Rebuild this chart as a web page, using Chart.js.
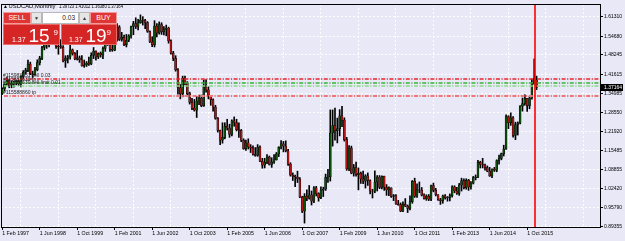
<!DOCTYPE html>
<html>
<head>
<meta charset="utf-8">
<script src="https://cdn.jsdelivr.net/npm/chart.js@4"></script>
<style>
  html, body { margin: 0; padding: 0; background: #e8e8f7; }
  #wrap { position: relative; width: 625px; height: 241px; overflow: hidden; }
  canvas { position: absolute; left: 0; top: 0; }
  .w { position: absolute; box-sizing: border-box; font-family: 'Liberation Sans', Arial, sans-serif; }
  .btn { top: 12px; height: 12px; background: #e03535; color: #fff; font-size: 7px; line-height: 10px; text-align: center; border: 1px solid #f29a9a; }
  .arr { top: 12px; height: 12px; background: #e6e6e6; color: #333; font-size: 5px; line-height: 10px; text-align: center; border: 1px solid #b8b8b8; }
  .inp { top: 12px; height: 12px; background: #fff; color: #222; font-size: 6.5px; line-height: 10px; text-align: right; padding-right: 3px; border: 1px solid #b8b8b8; }
  .big { top: 24px; height: 21px; background: #d62525; border: 1px solid #ea6a6a; color: #fff; }
  .big span { position: absolute; line-height: 1; white-space: nowrap; }
  .s { font-size: 7px; top: 10.5px; }
  .l { font-size: 19px; top: 1.2px; }
  .p { font-size: 8px; top: 3.5px; }
</style>
</head>
<body>
<div id="wrap">
  <canvas id="chart" width="625" height="241"></canvas>
  <div class="w btn" style="left:3px;width:28px;">SELL</div>
  <div class="w arr" style="left:31px;width:11px;">&#9660;</div>
  <div class="w inp" style="left:42px;width:37px;">0.03</div>
  <div class="w arr" style="left:79px;width:11px;">&#9650;</div>
  <div class="w btn" style="left:90px;width:27px;">BUY</div>
  <div class="w big" style="left:3px;width:57px;">
    <span class="s" style="left:8px;">1.37</span>
    <span class="l" style="left:24.5px;">15</span>
    <span class="p" style="left:49.5px;">9</span>
  </div>
  <div class="w big" style="left:61px;width:56px;">
    <span class="s" style="left:7px;">1.37</span>
    <span class="l" style="left:23.5px;">19</span>
    <span class="p" style="left:44.5px;">9</span>
  </div>
</div>
<script>
// USDCAD monthly bars, Feb 1997 .. Feb 2016
const opens = [
  1.350,1.366,1.383,1.395,1.378,1.387,1.384,1.392,1.383,1.408,1.423,
  1.430,1.451,1.418,1.415,1.432,1.456,1.471,1.508,1.545,1.520,1.545,1.538,
  1.531,1.512,1.511,1.509,1.462,1.471,1.476,1.500,1.488,1.469,1.473,1.466,
  1.445,1.448,1.455,1.452,1.481,1.496,1.476,1.488,1.483,1.505,1.522,1.543,
  1.502,1.499,1.535,1.578,1.536,1.543,1.518,1.533,1.548,1.580,1.590,1.580,
  1.593,1.602,1.601,1.594,1.563,1.527,1.518,1.582,1.558,1.587,1.562,1.570,
  1.575,1.531,1.489,1.471,1.431,1.370,1.350,1.402,1.386,1.350,1.320,1.300,
  1.293,1.325,1.335,1.309,1.372,1.363,1.340,1.329,1.304,1.265,1.224,1.190,
  1.200,1.238,1.232,1.210,1.257,1.251,1.226,1.224,1.190,1.161,1.181,1.167,
  1.163,1.142,1.138,1.167,1.118,1.105,1.115,1.132,1.107,1.116,1.123,1.143,
  1.166,1.178,1.170,1.154,1.108,1.070,1.066,1.064,1.057,0.995,0.947,0.998,
  0.991,1.003,0.981,1.027,1.007,0.993,1.019,1.022,1.063,1.065,1.215,1.240,
  1.223,1.230,1.274,1.259,1.192,1.092,1.163,1.077,1.096,1.072,1.077,1.057,
  1.050,1.068,1.052,1.016,1.015,1.047,1.064,1.028,1.066,1.029,1.020,1.027,
  0.997,1.000,0.972,0.969,0.947,0.970,0.964,0.956,0.979,1.049,0.998,1.020,
  1.019,1.002,0.990,0.998,0.988,1.035,1.018,1.003,0.986,0.983,0.999,0.993,
  0.994,1.000,1.030,1.016,1.008,1.036,1.052,1.027,1.053,1.030,1.043,1.062,
  1.063,1.114,1.107,1.105,1.096,1.084,1.068,1.091,1.087,1.120,1.128,1.144,
  1.160,1.271,1.250,1.267,1.207,1.244,1.249,1.307,1.316,1.334,1.309,1.335,
  1.384,1.39723
];
const highs = [
  1.370,1.385,1.405,1.400,1.392,1.392,1.395,1.396,1.412,1.429,1.437,
  1.465,1.458,1.427,1.440,1.466,1.478,1.512,1.578,1.547,1.572,1.556,1.560,
  1.545,1.520,1.535,1.515,1.480,1.481,1.524,1.503,1.491,1.498,1.479,1.480,
  1.465,1.460,1.475,1.490,1.508,1.497,1.490,1.493,1.510,1.525,1.562,1.545,
  1.525,1.540,1.590,1.583,1.560,1.551,1.553,1.552,1.582,1.598,1.610,1.605,
  1.620,1.614,1.605,1.597,1.565,1.545,1.600,1.590,1.596,1.593,1.580,1.585,
  1.578,1.534,1.495,1.480,1.436,1.381,1.410,1.410,1.391,1.355,1.334,1.330,
  1.340,1.345,1.345,1.397,1.398,1.373,1.341,1.332,1.310,1.268,1.225,1.250,
  1.250,1.262,1.245,1.260,1.270,1.262,1.250,1.227,1.195,1.191,1.195,1.175,
  1.171,1.165,1.175,1.171,1.128,1.128,1.141,1.136,1.130,1.141,1.148,1.168,
  1.189,1.186,1.188,1.159,1.113,1.078,1.071,1.084,1.062,0.998,1.007,1.020,
  1.035,1.016,1.031,1.032,1.010,1.030,1.029,1.074,1.090,1.294,1.294,1.300,
  1.266,1.295,1.306,1.267,1.200,1.172,1.170,1.107,1.115,1.095,1.081,1.084,
  1.072,1.078,1.054,1.022,1.085,1.069,1.069,1.068,1.067,1.038,1.030,1.027,
  1.004,1.004,0.984,0.975,0.979,0.990,0.968,0.999,1.052,1.060,1.041,1.047,
  1.028,1.006,1.003,1.004,1.036,1.043,1.025,1.004,0.991,1.002,1.004,0.997,
  1.006,1.034,1.034,1.029,1.042,1.060,1.058,1.058,1.056,1.048,1.066,1.071,
  1.121,1.118,1.128,1.108,1.102,1.097,1.092,1.097,1.123,1.139,1.146,1.173,
  1.277,1.274,1.284,1.271,1.252,1.253,1.309,1.335,1.346,1.334,1.341,1.400,
  1.469,1.41012
];
const lows = [
  1.347,1.360,1.378,1.370,1.370,1.372,1.380,1.378,1.373,1.401,1.417,
  1.425,1.415,1.405,1.413,1.428,1.448,1.466,1.500,1.505,1.510,1.530,1.525,
  1.505,1.485,1.505,1.459,1.440,1.455,1.468,1.482,1.466,1.465,1.457,1.444,
  1.440,1.443,1.447,1.449,1.470,1.465,1.470,1.475,1.470,1.495,1.515,1.495,
  1.495,1.497,1.530,1.532,1.530,1.514,1.510,1.528,1.540,1.552,1.573,1.568,
  1.591,1.585,1.573,1.560,1.525,1.511,1.510,1.544,1.554,1.553,1.551,1.548,
  1.523,1.485,1.463,1.427,1.348,1.332,1.339,1.380,1.345,1.314,1.295,1.290,
  1.268,1.312,1.305,1.306,1.355,1.332,1.310,1.290,1.262,1.218,1.175,1.180,
  1.195,1.225,1.200,1.205,1.238,1.222,1.200,1.185,1.159,1.155,1.160,1.148,
  1.139,1.135,1.135,1.117,1.094,1.095,1.110,1.105,1.097,1.111,1.122,1.134,
  1.160,1.150,1.150,1.104,1.067,1.052,1.031,1.045,0.993,0.942,0.906,0.983,
  0.988,0.968,0.976,0.999,0.981,0.990,0.997,1.018,1.045,1.050,1.170,1.190,
  1.181,1.205,1.237,1.187,1.087,1.086,1.075,1.067,1.067,1.020,1.042,1.041,
  1.026,1.035,1.006,0.992,1.010,1.016,1.024,1.023,1.018,1.001,1.000,0.994,
  0.983,0.970,0.967,0.945,0.945,0.962,0.942,0.951,0.974,0.994,0.994,1.010,
  0.999,0.988,0.984,0.983,0.983,1.013,0.999,0.984,0.970,0.974,0.988,0.981,
  0.982,0.995,1.010,1.004,1.001,1.016,1.023,1.022,1.018,1.022,1.040,1.054,
  1.062,1.095,1.095,1.087,1.082,1.066,1.062,1.083,1.082,1.108,1.123,1.136,
  1.159,1.230,1.241,1.201,1.192,1.208,1.246,1.290,1.310,1.289,1.298,1.331,
  1.382,1.36380
];
const closes = [
  1.366,1.383,1.395,1.378,1.387,1.384,1.392,1.383,1.408,1.423,1.430,
  1.451,1.418,1.415,1.432,1.456,1.471,1.508,1.545,1.520,1.545,1.538,1.531,
  1.512,1.511,1.509,1.462,1.471,1.476,1.500,1.488,1.469,1.473,1.466,1.445,
  1.448,1.455,1.452,1.481,1.496,1.476,1.488,1.483,1.505,1.522,1.543,1.502,
  1.499,1.535,1.578,1.536,1.543,1.518,1.533,1.548,1.580,1.590,1.580,1.593,
  1.602,1.601,1.594,1.563,1.527,1.518,1.582,1.558,1.587,1.562,1.570,1.575,
  1.531,1.489,1.471,1.431,1.370,1.350,1.402,1.386,1.350,1.320,1.300,1.293,
  1.325,1.335,1.309,1.372,1.363,1.340,1.329,1.304,1.265,1.224,1.190,1.200,
  1.238,1.232,1.210,1.257,1.251,1.226,1.224,1.190,1.161,1.181,1.167,1.163,
  1.142,1.138,1.167,1.118,1.105,1.115,1.132,1.107,1.116,1.123,1.143,1.166,
  1.178,1.170,1.154,1.108,1.070,1.066,1.064,1.057,0.995,0.947,0.998,0.991,
  1.003,0.981,1.027,1.007,0.993,1.019,1.022,1.063,1.065,1.215,1.240,1.223,
  1.230,1.274,1.259,1.192,1.092,1.163,1.077,1.096,1.072,1.077,1.057,1.050,
  1.068,1.052,1.016,1.015,1.047,1.064,1.028,1.066,1.029,1.020,1.027,0.997,
  1.000,0.972,0.969,0.947,0.970,0.964,0.956,0.979,1.049,0.998,1.020,1.019,
  1.002,0.990,0.998,0.988,1.035,1.018,1.003,0.986,0.983,0.999,0.993,0.994,
  1.000,1.030,1.016,1.008,1.036,1.052,1.027,1.053,1.030,1.043,1.062,1.063,
  1.114,1.107,1.105,1.096,1.084,1.068,1.091,1.087,1.120,1.128,1.144,1.160,
  1.271,1.250,1.267,1.207,1.244,1.249,1.307,1.316,1.334,1.309,1.335,1.384,
  1.403,1.37164
];

const yTicks = [1.61310, 1.54680, 1.48245, 1.41615, 1.34985, 1.28550, 1.21920, 1.15485, 1.08855, 1.02420, 0.95790, 0.89355];
const xTickLabels = ['1 Feb 1997', '1 Jun 1998', '1 Oct 1999', '1 Feb 2001', '1 Jun 2002', '1 Oct 2003', '1 Feb 2005',
  '1 Jun 2006', '1 Oct 2007', '1 Feb 2009', '1 Jun 2010', '1 Oct 2011', '1 Feb 2013', '1 Jun 2014', '1 Oct 2015'];

// trade level lines
const orderLevels = [1.4013, 1.3877, 1.3769, 1.3422];
const orderTexts = ['#115983951 sell 0.03', '#115883630 tp', '#115883630 sell limit 0.01', '#115588860 tp'];
const bidPrice = 1.37164;
const header = ['USDCAD,Monthly', '1.39723 1.41012 1.36380 1.37164'];

// month slots, the empty ones on the right are the chart shift
const monthNames = ['Jan','Feb','Mar','Apr','May','Jun','Jul','Aug','Sep','Oct','Nov','Dec'];
const slots = 256;
const categories = [];
for (let i = 0; i < slots; i++) {
  const m = 1 + i;
  categories.push('1 ' + monthNames[m % 12] + ' ' + (1997 + Math.floor(m / 12)));
}

const FONT = "'Liberation Sans', Arial, sans-serif";
const gridColor = 'rgba(255,255,255,0.95)';
const bodyColors = opens.map((o, i) => (closes[i] >= o ? '#0d4f0d' : '#b31616'));

const mtPlugin = {
  id: 'mt',
  afterDatasetsDraw(chart) {
    const { ctx, chartArea: a, scales: { x, y } } = chart;
    const colors = ['#e8262b', '#39b339', '#86d986', '#f07777'];
    const widths = [1.5, 1.5, 1.5, 2];
    ctx.save();
    orderLevels.forEach((lv, i) => {
      const py = Math.round(y.getPixelForValue(lv));
      ctx.strokeStyle = colors[i];
      ctx.lineWidth = widths[i];
      ctx.setLineDash([4, 1.5, 1.2, 1.5]);
      ctx.beginPath();
      ctx.moveTo(a.left + 3, py);
      ctx.lineTo(a.right, py);
      ctx.stroke();
    });
    ctx.setLineDash([]);
    ctx.font = '5px ' + FONT;
    ctx.fillStyle = '#222';
    ctx.textBaseline = 'bottom';
    orderLevels.forEach((lv, i) => {
      ctx.fillText(orderTexts[i], a.left + 2, y.getPixelForValue(lv) - 0.5);
    });
    // vertical marker between the last two bars
    const n = closes.length - 1;
    const vx = Math.round((x.getPixelForValue(n - 1) + x.getPixelForValue(n)) / 2);
    ctx.strokeStyle = '#ff0000';
    ctx.lineWidth = 1.6;
    ctx.beginPath();
    ctx.moveTo(vx, a.top);
    ctx.lineTo(vx, a.bottom);
    ctx.stroke();
    ctx.restore();
  },
  afterDraw(chart) {
    const { ctx, chartArea: a, scales: { y } } = chart;
    ctx.save();
    ctx.strokeStyle = '#000';
    ctx.lineWidth = 1;
    ctx.strokeRect(a.left + 0.5, a.top + 0.5, a.right - a.left - 1, a.bottom - a.top - 1);
    ctx.fillStyle = '#000';
    ctx.textBaseline = 'alphabetic';
    ctx.font = '5px ' + FONT;
    ctx.fillText('\u25B2', 3, 8.3);
    ctx.font = '6px ' + FONT;
    ctx.fillText(header[0], 8.5, 8.3, 47);
    ctx.fillText(header[1], 59, 8.3, 64);
    // bid price box on the price scale
    const by = Math.round(y.getPixelForValue(bidPrice));
    ctx.fillRect(a.right, by - 3, 22, 7);
    ctx.fillStyle = '#fff';
    ctx.font = '5px ' + FONT;
    ctx.textBaseline = 'middle';
    ctx.fillText(bidPrice.toFixed(5), a.right + 3, by + 0.5);
    ctx.restore();
  }
};

new Chart(document.getElementById('chart').getContext('2d'), {
  type: 'bar',
  data: {
    labels: categories,
    datasets: [
      {
        label: 'body',
        data: opens.map((o, i) => [o, closes[i]]),
        backgroundColor: bodyColors,
        borderColor: '#000',
        borderWidth: 0.5,
        borderSkipped: false,
        barThickness: 2,
        grouped: false
      },
      {
        label: 'wick',
        data: lows.map((l, i) => [l, highs[i]]),
        backgroundColor: '#000',
        barThickness: 1,
        grouped: false
      }
    ]
  },
  options: {
    responsive: false,
    animation: false,
    devicePixelRatio: 1,
    layout: { padding: { left: 1, top: 2, right: 0, bottom: 0 } },
    plugins: { legend: { display: false }, tooltip: { enabled: false } },
    scales: {
      x: {
        type: 'category',
        offset: true,
        grid: {
          offset: false,
          color: c => (c.index % 16 === 8 ? gridColor : 'rgba(0,0,0,0)'),
          tickLength: 2,
          tickColor: c => (xTickLabels.includes(categories[c.index]) ? '#000' : 'rgba(0,0,0,0)')
        },
        border: { display: false, dash: [2, 2] },
        ticks: {
          autoSkip: false,
          maxRotation: 0,
          minRotation: 0,
          align: 'start',
          padding: 0,
          color: '#000',
          font: { family: FONT, size: 5.3 },
          callback: (v, i) => (xTickLabels.includes(categories[i]) ? categories[i] : '')
        },
        afterFit: s => { s.height = 13; }
      },
      y: {
        type: 'linear',
        position: 'right',
        min: 0.8891,
        max: 1.6573,
        afterBuildTicks: s => { s.ticks = yTicks.map(v => ({ value: v })); },
        grid: { color: gridColor, tickLength: 2, tickColor: '#000' },
        border: { display: false, dash: [2, 2] },
        ticks: {
          autoSkip: false,
          padding: 1,
          color: '#000',
          font: { family: FONT, size: 5 },
          callback: v => v.toFixed(5)
        },
        afterFit: s => { s.width = 24; }
      }
    }
  },
  plugins: [mtPlugin]
});
</script>
</body>
</html>
